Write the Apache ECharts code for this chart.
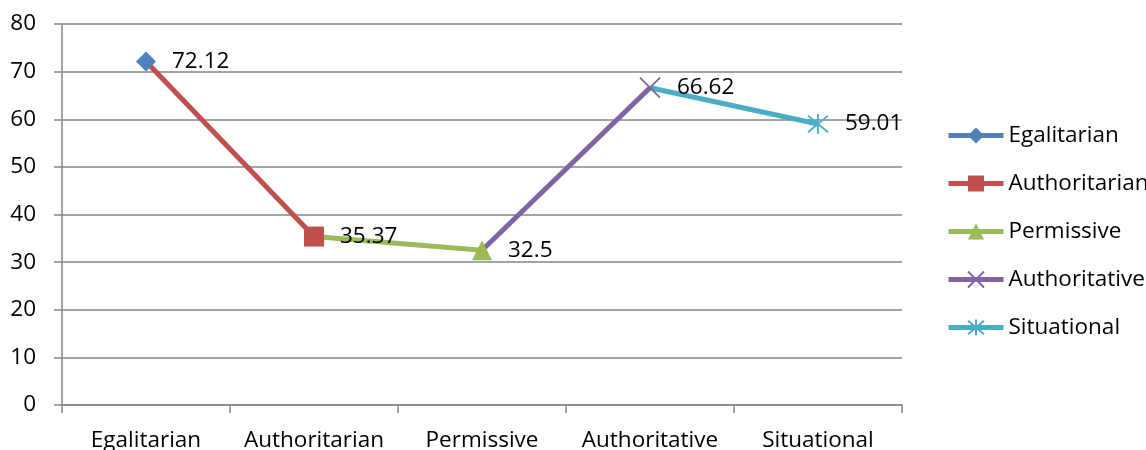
<!DOCTYPE html>
<html><head><meta charset="utf-8">
<script src="https://cdn.jsdelivr.net/npm/echarts@6/dist/echarts.min.js"></script>
<style>html,body{margin:0;padding:0;background:#fff}#c{width:1146px;height:450px}</style>
</head><body><div id="c"></div>
<script>
var categories = ['Egalitarian', 'Authoritarian', 'Permissive', 'Authoritative', 'Situational'];
var values = [72.12, 35.37, 32.5, 66.62, 59.01];
var seriesNames = ['Egalitarian', 'Authoritarian', 'Permissive', 'Authoritative', 'Situational'];
var colors = ['#4F81BD', '#C0504D', '#9BBB59', '#8064A2', '#4BACC6'];
var yTicks = [0, 10, 20, 30, 40, 50, 60, 70, 80];

var FONT = 'Open Sans';
var FS = 22.5;
var crossPath = 'path://M0,0L10,10M10,0L0,10';
var starPath = 'path://M0,0L10,10M10,0L0,10M5,-1L5,11';
var symbols = ['diamond', 'rect', 'triangle', crossPath, starPath];
var sizes = [20, 20, 20, 20, 20];
var hollow = [false, false, false, true, true];

var series = seriesNames.map(function (name, i) {
  var data = categories.map(function () { return null; });
  if (i > 0) data[i - 1] = { value: values[i - 1], symbol: 'none', label: { show: false } };
  data[i] = { value: values[i] };
  var itemStyle = hollow[i]
    ? { color: 'rgba(0,0,0,0)', borderColor: colors[i], borderWidth: 1.8 }
    : { color: colors[i] };
  return {
    name: name,
    type: 'line',
    data: data,
    z: 10 - i,
    symbol: symbols[i],
    symbolSize: sizes[i],
    showAllSymbol: true,
    connectNulls: false,
    lineStyle: { color: colors[i], width: 5 },
    itemStyle: itemStyle,
    label: {
      show: true, position: 'right', distance: 16,
      color: '#000', fontFamily: FONT, fontSize: FS,
      formatter: function (p) { return String(p.value); }
    },
    emphasis: { disabled: true },
    animation: false
  };
});

var legendData = seriesNames.map(function (name, i) {
  return { name: name, lineStyle: { width: 5, color: colors[i] } };
});

var chart = echarts.init(document.getElementById('c'));
chart.setOption({
  animation: false,
  grid: { left: 62, right: 244, top: 24, bottom: 45, containLabel: false, outerBoundsMode: 'none' },
  legend: {
    orient: 'vertical', left: 941, top: 119,
    itemWidth: 55, itemHeight: 20, itemGap: 25,
    textStyle: { fontFamily: FONT, fontSize: FS, color: '#000' },
    data: legendData
  },
  xAxis: {
    type: 'category', data: categories, boundaryGap: true,
    axisLine: { lineStyle: { color: '#868686', width: 1.5 } },
    axisTick: { show: true, length: 8, lineStyle: { color: '#868686', width: 1.5 } },
    axisLabel: { color: '#000', fontFamily: FONT, fontSize: FS, margin: 24, interval: 0 }
  },
  yAxis: {
    type: 'value', min: yTicks[0], max: yTicks[yTicks.length - 1], interval: 10,
    axisLine: { show: true, lineStyle: { color: '#868686', width: 1.5 } },
    axisTick: { show: true, length: 8, lineStyle: { color: '#868686', width: 1.5 } },
    splitLine: { show: true, lineStyle: { color: '#868686', width: 1.5 } },
    axisLabel: { color: '#000', fontFamily: FONT, fontSize: FS, margin: 26 }
  },
  series: series
});
</script></body></html>
